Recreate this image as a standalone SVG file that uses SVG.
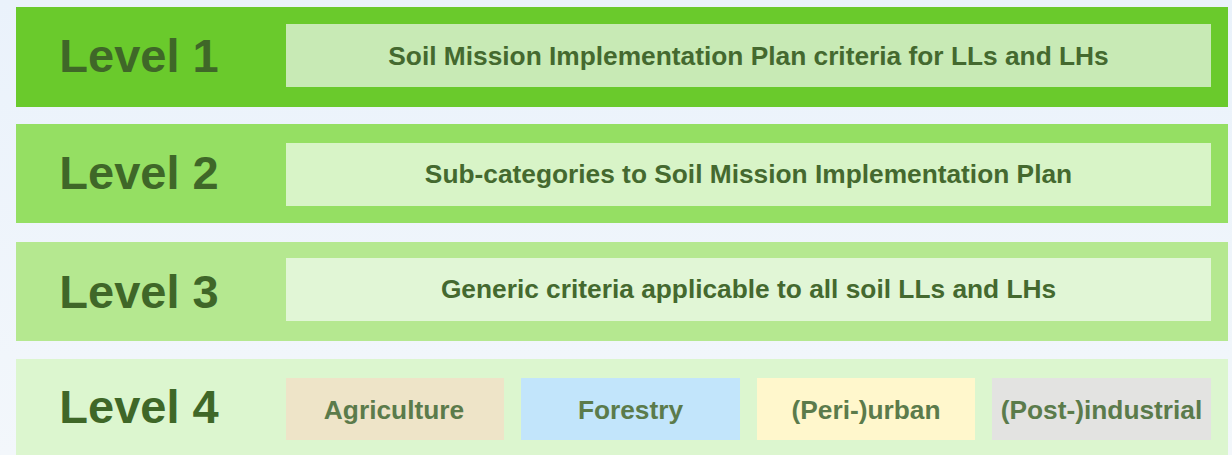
<svg xmlns="http://www.w3.org/2000/svg" width="1232" height="455" viewBox="0 0 1232 455">
  <defs>
    <linearGradient id="bg" x1="0" y1="0" x2="0" y2="1">
      <stop offset="0" stop-color="#eaf2fb"/>
      <stop offset="1" stop-color="#f3f7fb"/>
    </linearGradient>
  </defs>
  <style>
    .lvl { font-family: "Liberation Sans", Arial, sans-serif; font-weight: bold; font-size: 47px; fill: #3f6728; text-anchor: middle; }
    .txt { font-family: "Liberation Sans", Arial, sans-serif; font-weight: bold; font-size: 26.3px; fill: #44692f; text-anchor: middle; }
    .cat { font-family: "Liberation Sans", Arial, sans-serif; font-weight: bold; font-size: 26.3px; fill: #5b7b4b; text-anchor: middle; }
  </style>
  <rect x="0" y="0" width="1232" height="455" fill="url(#bg)"/>

  <g id="level1">
    <rect x="16" y="7" width="1212" height="100" fill="#6aca2c"/>
    <rect x="286" y="24" width="925" height="63" fill="#c8eab5"/>
    <text class="lvl" x="139" y="72">Level 1</text>
    <text class="txt" x="748.5" y="65">Soil Mission Implementation Plan criteria for LLs and LHs</text>
  </g>

  <g id="level2">
    <rect x="16" y="124" width="1212" height="99" fill="#95df63"/>
    <rect x="286" y="143" width="925" height="63" fill="#d8f4c7"/>
    <text class="lvl" x="139" y="189">Level 2</text>
    <text class="txt" x="748.5" y="182.5">Sub-categories to Soil Mission Implementation Plan</text>
  </g>

  <g id="level3">
    <rect x="16" y="242" width="1212" height="99" fill="#b5e890"/>
    <rect x="286" y="258" width="925" height="63" fill="#e1f6d6"/>
    <text class="lvl" x="139" y="307.5">Level 3</text>
    <text class="txt" x="748.5" y="298">Generic criteria applicable to all soil LLs and LHs</text>
  </g>

  <g id="level4">
    <rect x="16" y="359" width="1212" height="96" fill="#dcf6cf"/>
    <text class="lvl" x="139" y="423">Level 4</text>
    <g id="agriculture">
      <rect x="286" y="378" width="218" height="62" fill="#eee4c8"/>
      <text class="cat" x="394" y="418.5">Agriculture</text>
    </g>
    <g id="forestry">
      <rect x="521" y="378" width="219" height="62" fill="#c2e5fb"/>
      <text class="cat" x="630.5" y="418.5">Forestry</text>
    </g>
    <g id="peri-urban">
      <rect x="757" y="378" width="218" height="62" fill="#fff7cc"/>
      <text class="cat" x="866" y="418.5">(Peri-)urban</text>
    </g>
    <g id="post-industrial">
      <rect x="992" y="378" width="219" height="62" fill="#e3e3e1"/>
      <text class="cat" x="1101.5" y="418.5">(Post-)industrial</text>
    </g>
  </g>

  <g id="connectors"/>
</svg>
